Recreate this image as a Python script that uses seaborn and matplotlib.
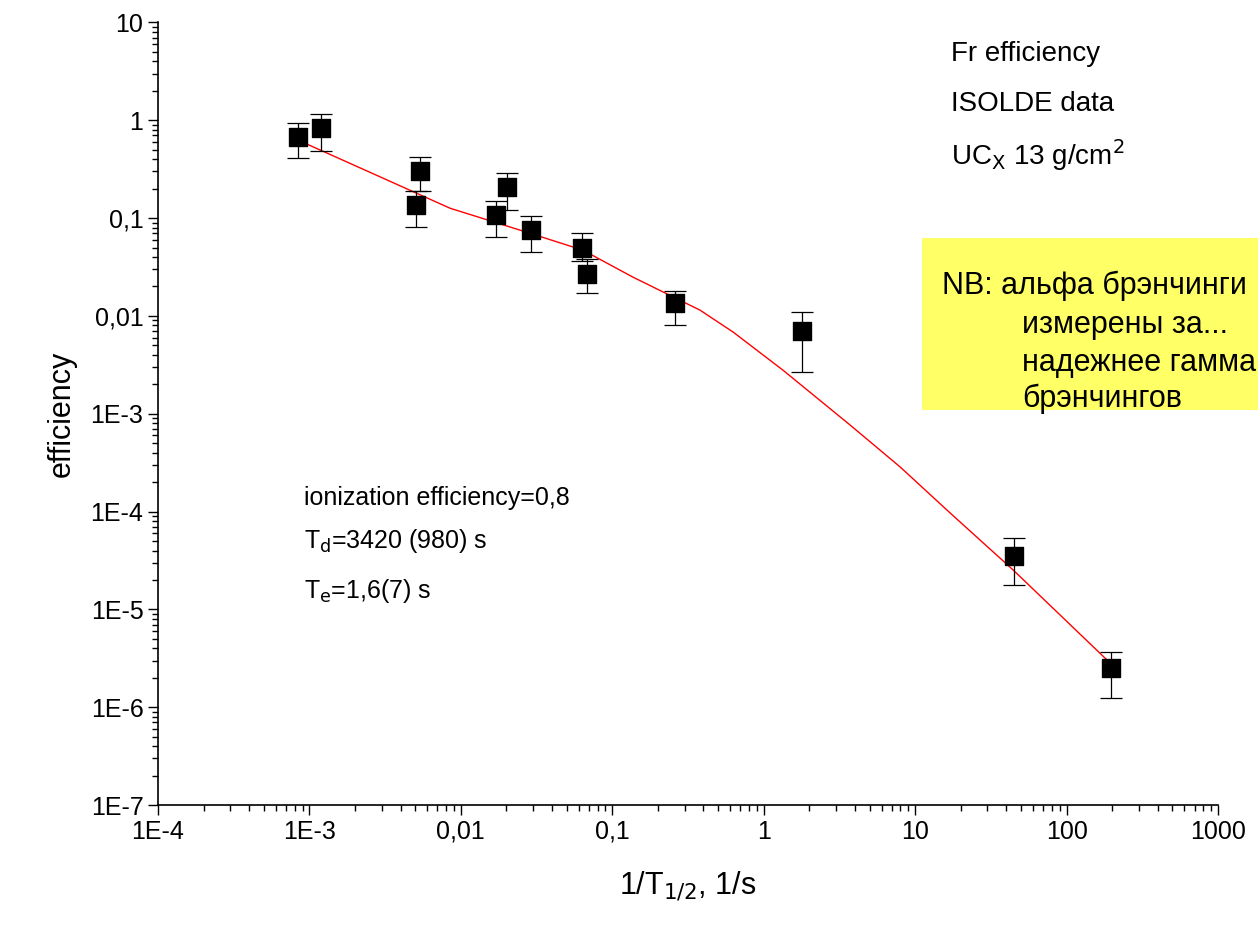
import matplotlib
matplotlib.use("Agg")
import matplotlib.pyplot as plt
import seaborn as sns
import numpy as np

sns.set_theme(style="ticks")
plt.rcParams['font.family'] = ['Liberation Sans', 'DejaVu Sans']
plt.rcParams['text.color'] = 'black'
plt.rcParams['axes.labelcolor'] = 'black'
plt.rcParams['xtick.color'] = 'black'
plt.rcParams['ytick.color'] = 'black'

x = [8.4e-4, 1.19e-3, 5.06e-3, 5.4e-3, 0.0171, 0.0202, 0.0291, 0.063, 0.068, 0.26, 1.8, 45, 197]
y = [0.67, 0.83, 0.135, 0.30, 0.107, 0.207, 0.075, 0.050, 0.027, 0.0135, 0.0070, 3.5e-5, 2.5e-6]
y_hi = [0.93, 1.15, 0.19, 0.42, 0.149, 0.29, 0.105, 0.070, 0.038, 0.018, 0.011, 5.4e-5, 3.7e-6]
y_lo = [0.41, 0.49, 0.081, 0.19, 0.064, 0.12, 0.045, 0.036, 0.017, 0.0081, 0.0027, 1.77e-5, 1.25e-6]

fit_x = [8.4e-4, 1e-3, 8.5e-3, 0.0286, 0.064, 0.137, 0.38, 0.628, 1.34, 3.72, 7.96, 17.0, 44.4, 200]
fit_y = [0.625, 0.556, 0.126, 0.070, 0.047, 0.0249, 0.01145, 6.84e-3, 2.79e-3, 7.67e-4, 2.86e-4, 9.7e-5, 2.53e-5, 2.71e-6]

xticks = [1e-4, 1e-3, 1e-2, 1e-1, 1, 10, 100, 1000]
xlabels = ["1E-4", "1E-3", "0,01", "0,1", "1", "10", "100", "1000"]
yticks = [1e-7, 1e-6, 1e-5, 1e-4, 1e-3, 1e-2, 1e-1, 1, 10]
ylabels = ["1E-7", "1E-6", "1E-5", "1E-4", "1E-3", "0,01", "0,1", "1", "10"]

fig = plt.figure(figsize=(12.58, 9.34), dpi=100)
ax = fig.add_axes([0.1256, 0.138, 0.8426, 0.838])
ax.set_xscale("log"); ax.set_yscale("log")

sns.lineplot(x=fit_x, y=fit_y, ax=ax, color="red", lw=1, sort=False)
yarr = np.array(y)
ax.errorbar(x, y, yerr=[yarr - np.array(y_lo), np.array(y_hi) - yarr], fmt="none",
            ecolor="black", elinewidth=0.9, capsize=8, capthick=0.9)
sns.scatterplot(x=x, y=y, ax=ax, marker="s", s=150, color="black", edgecolor="black", zorder=5)

ax.set_xlim(1e-4, 1000); ax.set_ylim(1e-7, 10)
ax.set_xticks(xticks); ax.set_xticklabels(xlabels, fontsize=18)
ax.set_yticks(yticks); ax.set_yticklabels(ylabels, fontsize=18)
ax.tick_params(which="major", direction="out", length=7, width=1)
ax.tick_params(which="minor", direction="out", length=4, width=1)
ax.xaxis.set_minor_locator(matplotlib.ticker.LogLocator(subs=np.arange(2, 10), numticks=20))
ax.yaxis.set_minor_locator(matplotlib.ticker.LogLocator(subs=np.arange(2, 10), numticks=20))
ax.yaxis.set_minor_formatter(matplotlib.ticker.NullFormatter())
ax.xaxis.set_minor_formatter(matplotlib.ticker.NullFormatter())
for s in ["top", "right"]:
    ax.spines[s].set_visible(False)
for s in ["left", "bottom"]:
    ax.spines[s].set_color("black"); ax.spines[s].set_linewidth(1.2)

ax.set_xlabel("1/T$_{1/2}$, 1/s", fontsize=22, labelpad=18)
ax.set_ylabel("efficiency", fontsize=22, labelpad=10)

fig.text(0.756, 0.935, "Fr efficiency", fontsize=20)
fig.text(0.756, 0.881, "ISOLDE data", fontsize=20)
fig.text(0.756, 0.823, "UC$_\\mathrm{X}$ 13 g/cm$^2$", fontsize=20)

fig.patches.append(matplotlib.patches.Rectangle((922/1258, (934-410)/934), 0.3, 172/934,
                   transform=fig.transFigure, facecolor="#ffff66", edgecolor="none"))
box_lines = ["NB: альфа брэнчинги", "измерены за...", "надежнее гамма", "брэнчингов"]
box_x = [942, 1022, 1022, 1022]
box_y = [286, 325, 363, 399]
for t, bx, by in zip(box_lines, box_x, box_y):
    fig.text(bx/1258, 1 - by/934, t, fontsize=22, va="center")

fig.text(0.242, 0.459, "ionization efficiency=0,8", fontsize=18)
fig.text(0.242, 0.413, "T$_\\mathrm{d}$=3420 (980) s", fontsize=18)
fig.text(0.242, 0.360, "T$_\\mathrm{e}$=1,6(7) s", fontsize=18)

fig.savefig("out.png", dpi=100)
